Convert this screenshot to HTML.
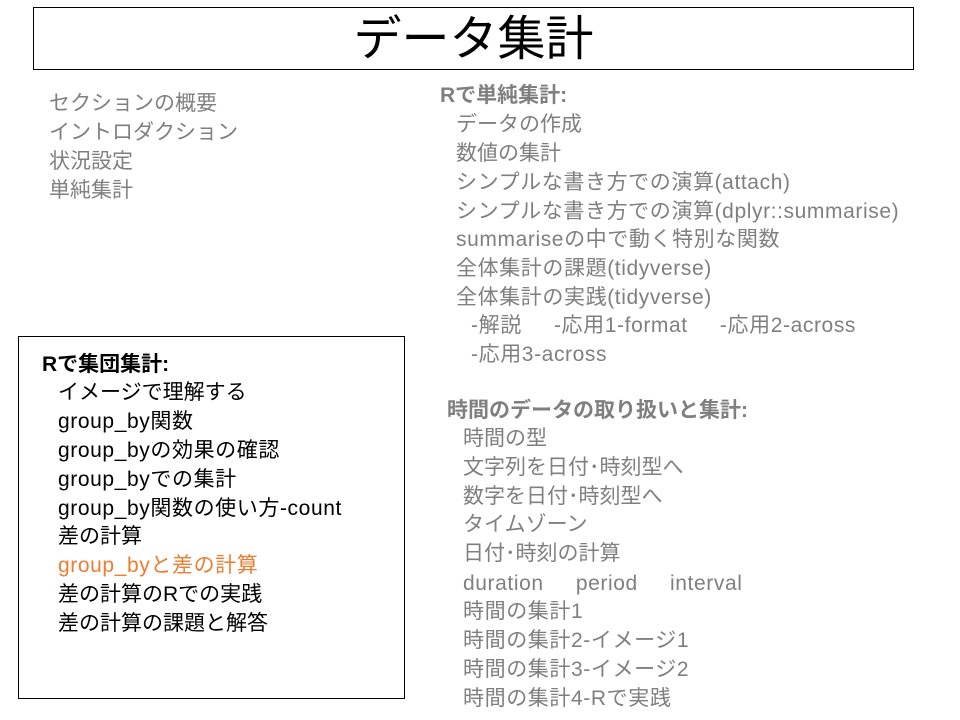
<!DOCTYPE html>
<html><head><meta charset="utf-8"><style>
body{margin:0;width:960px;height:720px;background:#fff;position:relative;overflow:hidden;font-family:"Liberation Sans","Noto Sans CJK JP",sans-serif;}
.t{position:absolute;font-size:21px;line-height:28px;white-space:nowrap;}
.g{color:#7f7f7f}
.b{font-weight:bold}
.k{color:#000}
.o{color:#ed7d31}
.w{letter-spacing:0.6px}
.box{position:absolute;border:1px solid #000;box-sizing:border-box;}
</style></head><body>
<div class="box" style="left:33px;top:7px;width:881px;height:63px;"></div>
<div class="t" style="left:33px;width:881px;text-align:center;top:13px;font-size:48px;line-height:54px;">データ集計</div>

<div class="t g" style="left:49px;top:90px">セクションの概要</div>
<div class="t g" style="left:49px;top:119px">イントロダクション</div>
<div class="t g" style="left:49px;top:148px">状況設定</div>
<div class="t g" style="left:49px;top:177px">単純集計</div>

<div class="t g b" style="left:440px;top:82px">Rで単純集計:</div>
<div class="t g" style="left:456px;top:111px">データの作成</div>
<div class="t g" style="left:456px;top:140px">数値の集計</div>
<div class="t g w" style="left:456px;top:169px">シンプルな書き方での演算(attach)</div>
<div class="t g w" style="left:456px;top:198px">シンプルな書き方での演算(dplyr::summarise)</div>
<div class="t g w" style="left:456px;top:226px">summariseの中で動く特別な関数</div>
<div class="t g w" style="left:456px;top:255px">全体集計の課題(tidyverse)</div>
<div class="t g w" style="left:456px;top:284px">全体集計の実践(tidyverse)</div>
<div class="t g w" style="left:471px;top:312px">-解説 &nbsp;&nbsp;&nbsp;&nbsp;-応用1-format &nbsp;&nbsp;&nbsp;&nbsp;-応用2-across</div>
<div class="t g w" style="left:471px;top:341px">-応用3-across</div>

<div class="t g b" style="left:447px;top:397px">時間のデータの取り扱いと集計:</div>
<div class="t g" style="left:463px;top:425px">時間の型</div>
<div class="t g" style="left:463px;top:454px">文字列を日付･時刻型へ</div>
<div class="t g" style="left:463px;top:483px">数字を日付･時刻型へ</div>
<div class="t g" style="left:463px;top:511px">タイムゾーン</div>
<div class="t g" style="left:463px;top:540px">日付･時刻の計算</div>
<div class="t g w" style="left:463px;top:570px">duration &nbsp;&nbsp;&nbsp;&nbsp;period &nbsp;&nbsp;&nbsp;&nbsp;interval</div>
<div class="t g w" style="left:463px;top:598px">時間の集計1</div>
<div class="t g w" style="left:463px;top:627px">時間の集計2-イメージ1</div>
<div class="t g w" style="left:463px;top:656px">時間の集計3-イメージ2</div>
<div class="t g w" style="left:463px;top:685px">時間の集計4-Rで実践</div>

<div class="box" style="left:18px;top:336px;width:387px;height:363px;"></div>
<div class="t k b" style="left:42px;top:351px">Rで集団集計:</div>
<div class="t k" style="left:58px;top:379px">イメージで理解する</div>
<div class="t k w" style="left:58px;top:408px">group_by関数</div>
<div class="t k w" style="left:58px;top:437px">group_byの効果の確認</div>
<div class="t k w" style="left:58px;top:466px">group_byでの集計</div>
<div class="t k w" style="left:58px;top:495px">group_by関数の使い方-count</div>
<div class="t k" style="left:58px;top:523px">差の計算</div>
<div class="t o w" style="left:58px;top:552px">group_byと差の計算</div>
<div class="t k" style="left:58px;top:581px">差の計算のRでの実践</div>
<div class="t k" style="left:58px;top:610px">差の計算の課題と解答</div>
</body></html>
